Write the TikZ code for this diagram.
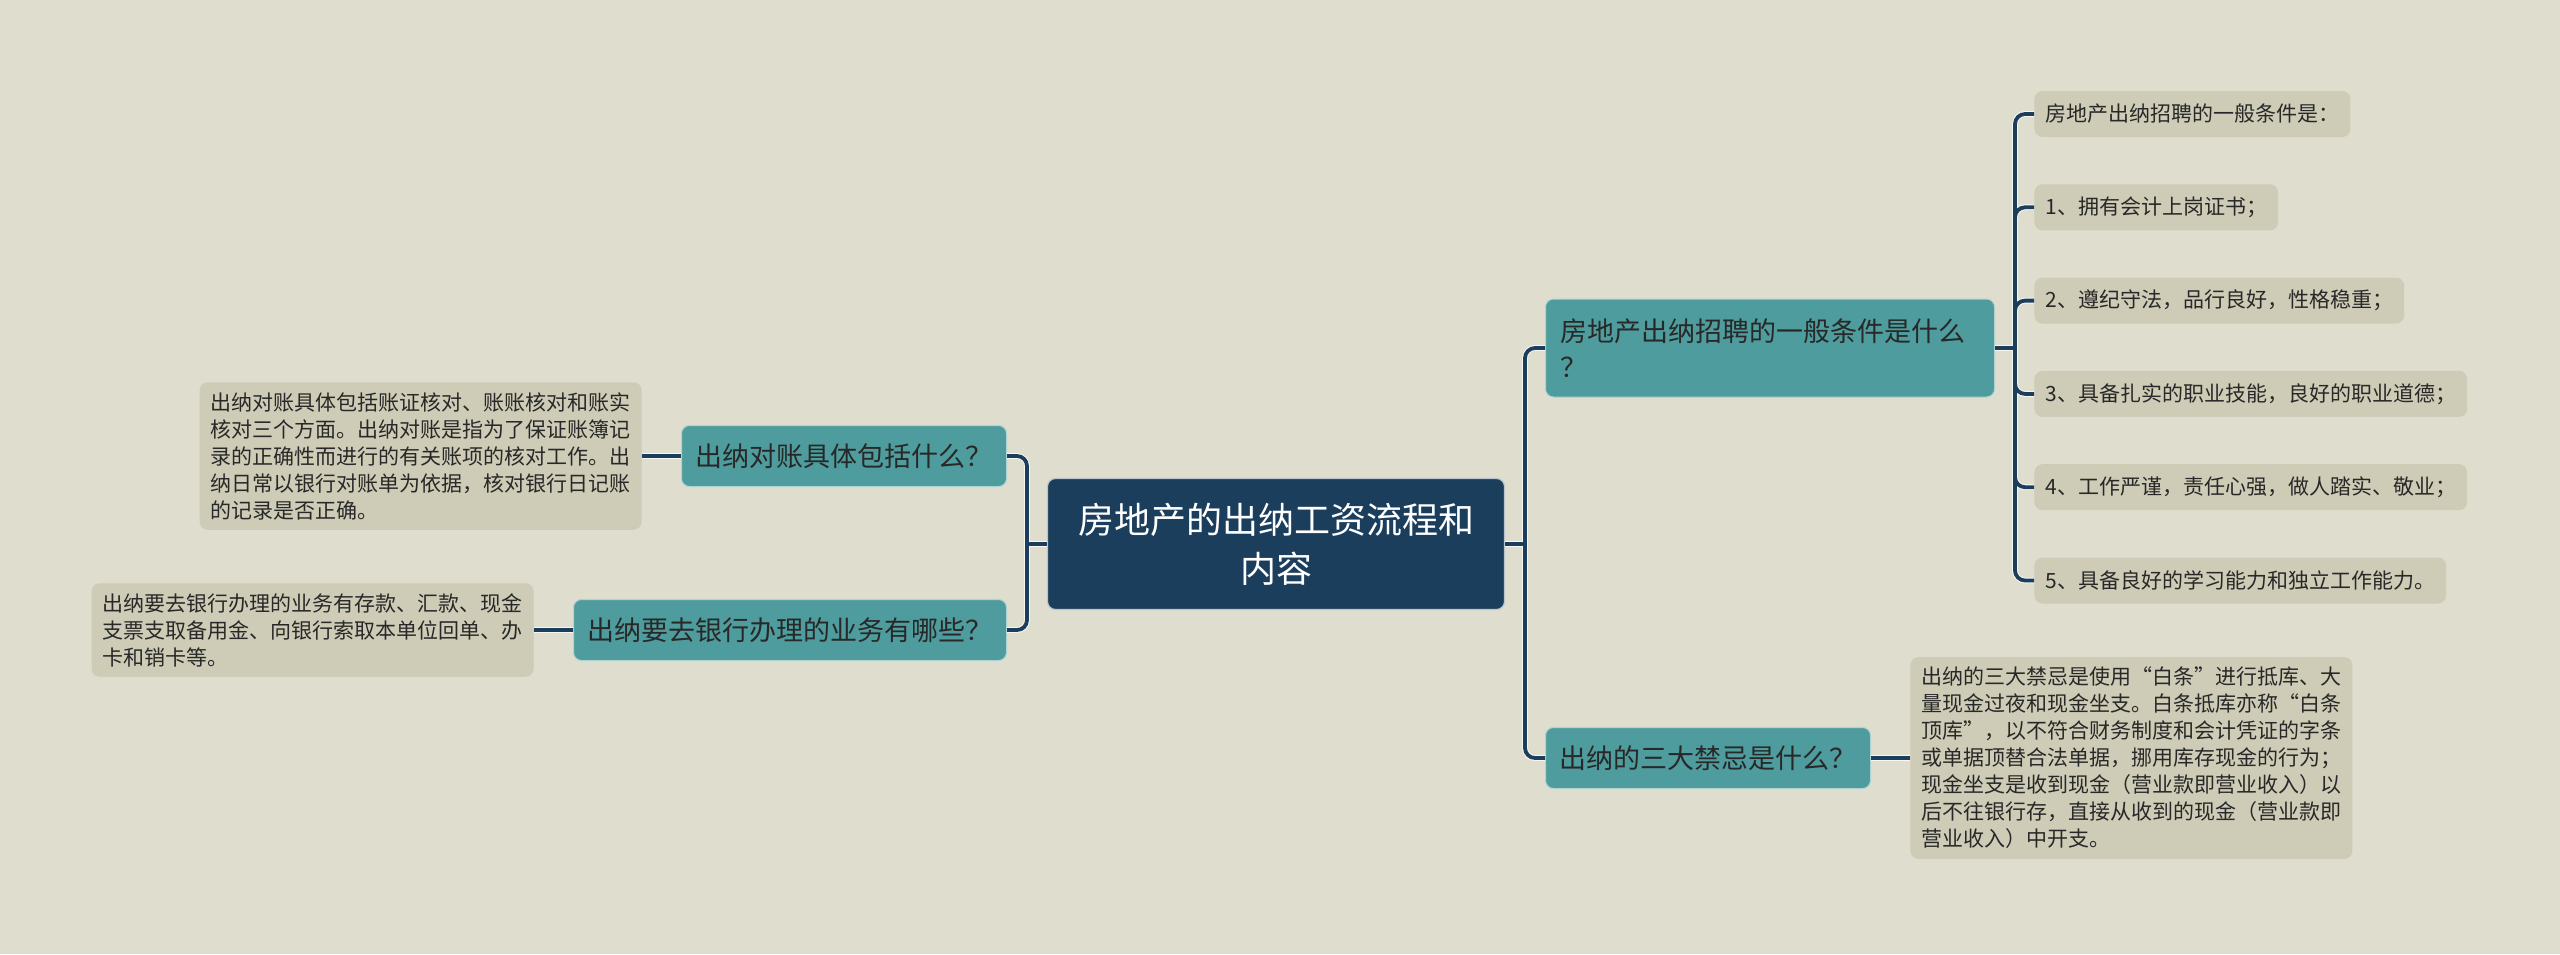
\documentclass[tikz,border=0pt]{standalone}
\usepackage{fontspec}
\setmainfont{Noto Sans CJK SC}
\usepackage{xcolor}
\usetikzlibrary{positioning}
\definecolor{paper}{RGB}{223,221,206}
\definecolor{navy}{RGB}{26,62,92}
\definecolor{sea}{RGB}{78,156,157}
\definecolor{sand}{RGB}{206,204,182}
\definecolor{ink}{RGB}{40,40,40}

\begin{document}
\begin{tikzpicture}[x=0.5pt,y=-0.5pt,every node/.style={align=left,text=ink},root/.style={fill=navy,draw=white!70!navy,line width=0.6pt,rounded corners=4pt,text=white,align=center,font=\fontsize{18}{24.5}\selectfont,minimum width=228.5pt,minimum height=65.5pt},topic/.style={fill=sea,draw=white!55!sea,line width=0.5pt,rounded corners=4pt,font=\fontsize{13.5}{18}\selectfont,inner xsep=7pt,minimum height=30.5pt},note/.style={fill=sand,rounded corners=4pt,font=\fontsize{10.5}{13.5}\selectfont,inner xsep=5.5pt,inner ysep=5pt},item/.style={note,minimum height=23pt,inner ysep=0pt},halo/.style={draw=white!75!paper,line width=2.9pt,rounded corners=5pt},link/.style={draw=navy,line width=1.9pt,rounded corners=5pt}]
\fill[paper] (0,0) rectangle (2560,954);
\node[root] (c) at (1276,544) {房地产的出纳工资流程和\\内容};
\node[topic,anchor=east] (q1) at (1007,456) {出纳对账具体包括什么？};
\node[note,anchor=east] (a1) at (642,456) {出纳对账具体包括账证核对、账账核对和账实\\核对三个方面。出纳对账是指为了保证账簿记\\录的正确性而进行的有关账项的核对工作。出\\纳日常以银行对账单为依据，核对银行日记账\\的记录是否正确。};
\node[topic,anchor=east] (q2) at (1007,630) {出纳要去银行办理的业务有哪些？};
\node[note,anchor=east] (a2) at (534,630) {出纳要去银行办理的业务有存款、汇款、现金\\支票支取备用金、向银行索取本单位回单、办\\卡和销卡等。};
\node[topic,anchor=west,text width=209.5pt,inner xsep=7.5pt,minimum height=49pt] (q3) at (1545,348) {房地产出纳招聘的一般条件是什么\\？};
\node[topic,anchor=west] (q4) at (1545,758) {出纳的三大禁忌是什么？};
\node[note,anchor=west] (a4) at (1910,758) {出纳的三大禁忌是使用“白条”进行抵库、大\\量现金过夜和现金坐支。白条抵库亦称“白条\\顶库”，以不符合财务制度和会计凭证的字条\\或单据顶替合法单据，挪用库存现金的行为；\\现金坐支是收到现金（营业款即营业收入）以\\后不往银行存，直接从收到的现金（营业款即\\营业收入）中开支。};
\foreach \t [count=\i from 0] in {{房地产出纳招聘的一般条件是：},{1、拥有会计上岗证书；},{2、遵纪守法，品行良好，性格稳重；},{3、具备扎实的职业技能，良好的职业道德；},{4、工作严谨，责任心强，做人踏实、敬业；},{5、具备良好的学习能力和独立工作能力。}}
  \node[item,anchor=west] (r\i) at (2034,114+93.3*\i) {\t};
\coordinate (lb) at (1027,544);
\coordinate (rb) at (1525,544);
\coordinate (tb) at (2015,348);
\foreach \s in {halo,link}{
  \draw[\s] (c.west) -- (lb);
  \draw[\s] (q1.east) -| (lb) |- (q2.east);
  \draw[\s] (c.east) -- (rb);
  \draw[\s] (q3.west) -| (rb) |- (q4.west);
  \draw[\s] (q3.east) -- (tb);
  \draw[\s] (r0.west) -| (tb) |- (r5.west);
  \foreach \i in {1,...,4} \draw[\s] (tb) |- (r\i.west);
  \draw[\s] (q1.west) -- (a1.east);
  \draw[\s] (q2.west) -- (a2.east);
  \draw[\s] (q4.east) -- (a4.west);
}
\end{tikzpicture}
\end{document}
